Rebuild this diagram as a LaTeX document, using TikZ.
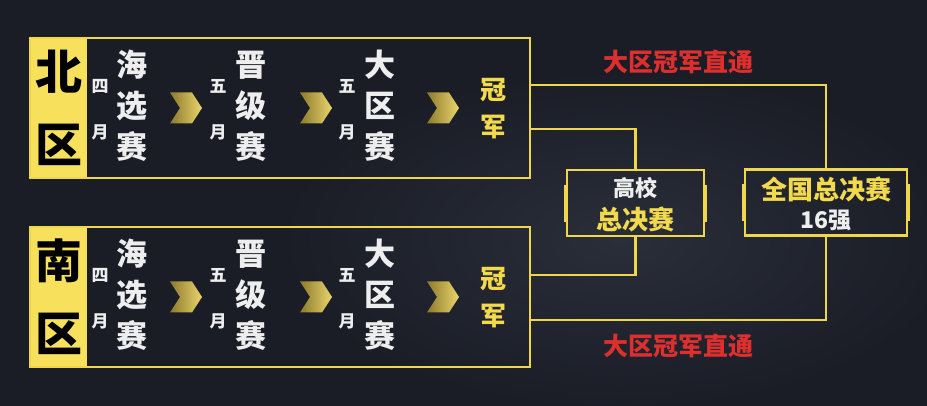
\documentclass[tikz,border=0pt]{standalone}
\usepackage{fontspec}
\newfontfamily\cjk{Noto Sans CJK SC}
\newfontfamily\cjkheavy{Noto Sans CJK SC Black}
\usetikzlibrary{positioning,calc}

\definecolor{bgdark}{HTML}{1A1D26}
\definecolor{bgsmoke}{HTML}{2A2E39}
\definecolor{lineyellow}{HTML}{EFD64A}
\definecolor{tagyellow}{HTML}{F7E15C}
\definecolor{goldtext}{HTML}{F3DA4C}
\definecolor{softwhite}{HTML}{EEEEEE}
\definecolor{redtext}{HTML}{DC2F2E}
\definecolor{chevdark}{HTML}{8C7A2C}
\definecolor{chevlight}{HTML}{EAD56C}

\tikzset{
  goldline/.style={draw=lineyellow,line width=2.4pt},
  regionbox/.style={goldline,minimum width=500pt,minimum height=140pt,inner sep=0pt},
  tagbox/.style={fill=tagyellow,minimum width=56pt,minimum height=138pt,inner sep=0pt,
    text=black,align=center,font=\cjkheavy\fontsize{47}{73}\selectfont},
  monthtext/.style={text=softwhite,align=center,inner sep=0pt,font=\cjkheavy\fontsize{17}{46}\selectfont},
  stagetext/.style={text=softwhite,align=center,inner sep=0pt,font=\cjkheavy\fontsize{31}{41}\selectfont},
  champtext/.style={text=goldtext,align=center,inner sep=0pt,font=\cjkheavy\fontsize{26}{37}\selectfont},
  finalbox/.style={goldline,inner sep=0pt,minimum height=66pt},
  redlabel/.style={text=redtext,inner sep=0pt,font=\cjk\bfseries\fontsize{25}{25}\selectfont},
  chevron/.pic={\shade[left color=chevdark,right color=chevlight]
    (-16,-15.5) -- (6,-15.5) -- (16,0) -- (6,15.5) -- (-16,15.5) -- (-6,0) -- cycle;}
}

\begin{document}
\begin{tikzpicture}[x=1pt,y=-1pt]
\useasboundingbox (0,0) rectangle (927,406);
% background
\fill[bgdark] (0,0) rectangle (927,406);
\begin{scope}
\clip (0,0) rectangle (927,406);
\shade[inner color=bgsmoke,outer color=bgdark] (620,240) ellipse (340 and 170);
\end{scope}

% the two regions
\foreach \r/\name/\dy in {north/北/0,south/南/189}{
  \node[regionbox] (\r box) at (280,108+\dy) {};
  \node[tagbox] (\r tag) at (58.5,108+\dy) {\name\\区};
  \node[monthtext] (\r m1) at (100,110+\dy) {四\\月};
  \node[stagetext] (\r s1) at (132,106+\dy) {海\\选\\赛};
  \pic at (186,108+\dy) {chevron};
  \node[monthtext] (\r m2) at (218,110+\dy) {五\\月};
  \node[stagetext] (\r s2) at (251,106+\dy) {晋\\级\\赛};
  \pic at (316,108+\dy) {chevron};
  \node[monthtext] (\r m3) at (347,110+\dy) {五\\月};
  \node[stagetext] (\r s3) at (380,106+\dy) {大\\区\\赛};
  \pic at (443,108+\dy) {chevron};
  \node[champtext] (\r champ) at (493,108.5+\dy) {冠\\军};
}

% finals
\node[finalbox,minimum width=137pt] (college) at (635.5,203) {};
\node[text=softwhite,font=\cjk\bfseries\fontsize{22}{22}\selectfont] (collegeA) at (635.5,188) {高校};
\node[text=goldtext,font=\cjkheavy\fontsize{26}{26}\selectfont] (collegeB) at (635.5,219) {总决赛};
\node[finalbox,minimum width=162pt] (national) at (826,202.5) {};
\node[text=goldtext,font=\cjkheavy\fontsize{26}{26}\selectfont] (nationalA) at (826,189) {全国总决赛};
\node[text=softwhite,font=\cjk\bfseries\fontsize{23}{23}\selectfont] (nationalB) at (826,220) {16强};

% side marks
\draw[lineyellow,line width=4pt] (college.west) ++(0,-18) -- ++(0,37);
\draw[lineyellow,line width=4pt] (college.east) ++(0,-18) -- ++(0,37);
\draw[lineyellow,line width=4pt] (national.west) ++(0,-18) -- ++(0,37);
\draw[lineyellow,line width=4pt] (national.east) ++(0,-18) -- ++(0,37);

% connectors
\coordinate (northout) at (northbox.east |- 0,85);
\coordinate (northin) at (northbox.east |- 0,129);
\coordinate (southin) at (southbox.east |- 0,275);
\coordinate (southout) at (southbox.east |- 0,320);
\draw[goldline] (northout) -| (national);
\draw[goldline] (northin) -| (college);
\draw[goldline] (southin) -| (college);
\draw[goldline] (southout) -| (national);

\node[redlabel] (directA) at (678,62) {大区冠军直通};
\node[redlabel] (directB) at (678,346) {大区冠军直通};
\end{tikzpicture}
\end{document}
